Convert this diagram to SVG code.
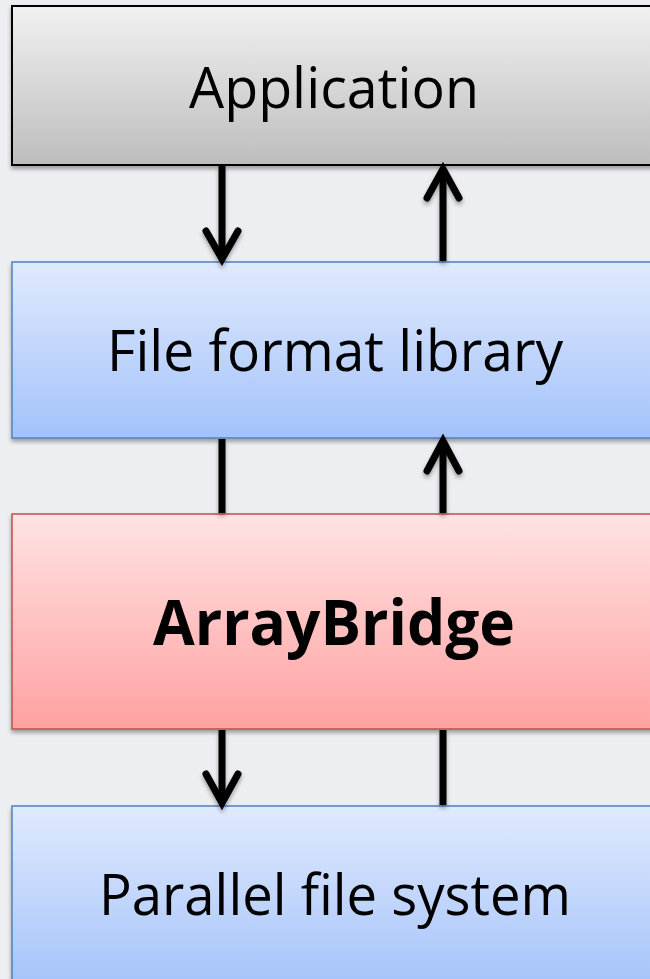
<svg xmlns="http://www.w3.org/2000/svg" width="650" height="979" viewBox="0 0 650 979">
  <defs>
    <linearGradient id="gGray" x1="0" y1="0" x2="0" y2="1">
      <stop offset="0" stop-color="#f1f1f1"/>
      <stop offset="1" stop-color="#bdbdbd"/>
    </linearGradient>
    <linearGradient id="gBlue" x1="0" y1="0" x2="0" y2="1">
      <stop offset="0" stop-color="#e0eafd"/>
      <stop offset="1" stop-color="#a3c2fa"/>
    </linearGradient>
    <linearGradient id="gRed" x1="0" y1="0" x2="0" y2="1">
      <stop offset="0" stop-color="#ffe3e3"/>
      <stop offset="1" stop-color="#ffa1a1"/>
    </linearGradient>
    <filter id="shadow" x="-10%" y="-10%" width="120%" height="130%">
      <feDropShadow dx="0" dy="3" stdDeviation="2" flood-color="#000" flood-opacity="0.35"/>
    </filter>
  </defs>
  <style>
    .label { font-family: "Open Sans", "Liberation Sans", sans-serif; font-size: 57px; fill: #000; text-anchor: middle; }
    .bold { font-weight: bold; font-size: 62px; }
    .wire { stroke: #000; stroke-width: 7; fill: none; stroke-linecap: butt; }
    .head { stroke: #000; stroke-width: 7; fill: none; stroke-linecap: round; stroke-linejoin: miter; }
  </style>

  <rect x="0" y="0" width="650" height="979" fill="#edeef1"/>

  <g id="application" filter="url(#shadow)">
    <rect x="12" y="6" width="660" height="159" fill="url(#gGray)" stroke="#000" stroke-width="2"/>
    <text class="label" x="334" y="108" textLength="290" lengthAdjust="spacingAndGlyphs">Application</text>
  </g>

  <g id="file-format-library" filter="url(#shadow)">
    <rect x="12" y="262" width="660" height="176" fill="url(#gBlue)" stroke="#4f81bd" stroke-width="1.5"/>
    <text class="label" x="335" y="371" textLength="456" lengthAdjust="spacingAndGlyphs">File format library</text>
  </g>

  <g id="arraybridge" filter="url(#shadow)">
    <rect x="12" y="514" width="660" height="215" fill="url(#gRed)" stroke="#c0504d" stroke-width="1.5"/>
    <text class="label bold" x="334" y="645" textLength="362" lengthAdjust="spacingAndGlyphs">ArrayBridge</text>
  </g>

  <g id="parallel-file-system" filter="url(#shadow)">
    <rect x="12" y="806" width="660" height="185" fill="url(#gBlue)" stroke="#4f81bd" stroke-width="1.5"/>
    <text class="label" x="335" y="915" textLength="472" lengthAdjust="spacingAndGlyphs">Parallel file system</text>
  </g>

  <g id="connectors" filter="url(#shadow)">
    <!-- Application to file format library -->
    <line class="wire" x1="222" y1="166" x2="222" y2="259"/>
    <polyline class="head" points="206,231 222,259 238,231"/>
    <!-- file format library back to Application -->
    <line class="wire" x1="443" y1="261" x2="443" y2="169"/>
    <polyline class="head" points="427,198 443,169 459,198"/>
    <!-- file format library to ArrayBridge -->
    <line class="wire" x1="222" y1="439" x2="222" y2="513"/>
    <!-- ArrayBridge back to file format library -->
    <line class="wire" x1="443" y1="513" x2="443" y2="441"/>
    <polyline class="head" points="427,471 443,441 459,471"/>
    <!-- ArrayBridge to parallel file system -->
    <line class="wire" x1="222" y1="730" x2="222" y2="803"/>
    <polyline class="head" points="206,774 222,803 238,774"/>
    <!-- parallel file system back to ArrayBridge -->
    <line class="wire" x1="443" y1="805" x2="443" y2="730"/>
  </g>
</svg>
